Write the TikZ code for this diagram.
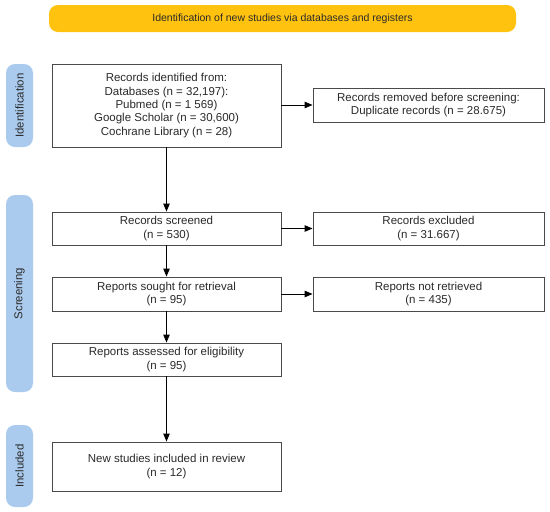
\documentclass[tikz,border=0pt]{standalone}
\usepackage{fontspec}
\setmainfont{Liberation Sans}
\usetikzlibrary{arrows.meta}
\definecolor{banner}{HTML}{FFC20E}
\definecolor{sidebar}{HTML}{ABCBEE}
\definecolor{boxline}{HTML}{4A4A4A}
\definecolor{txt}{HTML}{2A2A2A}
\tikzset{
  box/.style={draw=boxline, line width=0.9pt, fill=white, inner sep=0pt, minimum width=229pt, align=center, text=txt, font=\fontsize{11.5}{13.3}\selectfont},
  sidebox/.style={fill=sidebar, rounded corners=9pt, inner sep=0pt, minimum width=27pt, text=txt, font=\fontsize{11.4}{13}\selectfont},
  arr/.style={-{Triangle[length=8pt,width=6.5pt]}, line width=0.9pt, black},
}
\begin{document}
\begin{tikzpicture}[x=1pt,y=-1pt]
\useasboundingbox (0,0) rectangle (550,512);
% banner
\node[fill=banner, rounded corners=9pt, minimum width=467pt, minimum height=27pt, inner sep=0pt, text=txt, font=\fontsize{10.5}{12}\selectfont] (ban) at (282.5,18.5) {Identification of new studies via databases and registers};
% side bars
\node[sidebox, minimum height=83pt] (idbar) at (19.5,105.5) {\rotatebox{90}{Identification}};
\node[sidebox, minimum height=197pt] (scrbar) at (19.5,293.5) {\rotatebox{90}{Screening}};
\node[sidebox, minimum height=82pt] (incbar) at (19.5,466) {\rotatebox{90}{Included}};
% boxes
\node[box, minimum height=83pt] (b1) at (166.5,105.5) {Records identified from:\\Databases (n = 32,197):\\Pubmed (n = 1 569)\\Google Scholar (n = 30,600)\\Cochrane Library (n = 28)};
\node[box, minimum width=231pt, minimum height=34pt] (rem) at (428.5,105) {Records removed before screening:\\Duplicate records (n = 28.675)};
\node[box, minimum height=33pt] (scr) at (166.5,228.5) {Records screened\\(n = 530)};
\node[box, minimum width=231pt, minimum height=33pt] (exc) at (428.5,228.5) {Records excluded\\(n = 31.667)};
\node[box, minimum height=34pt] (sought) at (166.5,294) {Reports sought for retrieval\\(n = 95)};
\node[box, minimum width=231pt, minimum height=34pt] (notret) at (428.5,294) {Reports not retrieved\\(n = 435)};
\node[box, minimum height=33pt] (assess) at (166.5,359.5) {Reports assessed for eligibility\\(n = 95)};
\node[box, minimum height=49pt] (incl) at (166.5,466.5) {New studies included in review\\(n = 12)};
% arrows
\draw[arr] (b1) -- (scr);
\draw[arr] (b1.east |- rem.west) -- (rem.west);
\draw[arr] (scr) -- (exc);
\draw[arr] (scr) -- (sought);
\draw[arr] (sought) -- (notret);
\draw[arr] (sought) -- (assess);
\draw[arr] (assess) -- (incl);
\end{tikzpicture}
\end{document}
